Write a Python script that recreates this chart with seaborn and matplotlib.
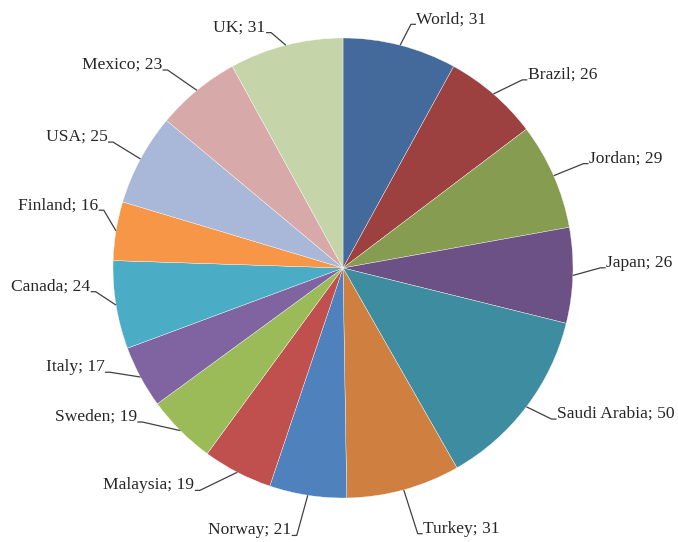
import numpy as np
import seaborn as sns
import matplotlib.pyplot as plt

countries = ['World', 'Brazil', 'Jordan', 'Japan', 'Saudi Arabia', 'Turkey', 'Norway',
             'Malaysia', 'Sweden', 'Italy', 'Canada', 'Finland', 'USA', 'Mexico', 'UK']
values = [31, 26, 29, 26, 50, 31, 21, 19, 19, 17, 24, 16, 25, 23, 31]

colors = ['#44699B', '#9C413F', '#869C50', '#6B5186', '#3E8CA0', '#CF7F3F', '#4F81BD',
          '#C0504D', '#9BBB59', '#8064A2', '#4BACC6', '#F79646', '#A9B8D8', '#D8A9A9', '#C5D5A9']

# label anchor tweaks (angle offset in degrees, radius in pie radii)
lab_dang = [-1.2, -2.8, -0.2, 1.9, 1.2, 0.4, -1.0, -5.4, -7.5, -4.2, -3.8, -4.3, -0.4, 2.1, 2.6]
lab_r = [1.10, 1.13, 1.14, 1.12, 1.12, 1.20, 1.18, 1.15, 1.10, 1.11, 1.08, 1.07, 1.14, 1.15, 1.07]

sns.set_theme(style='white')
plt.rcParams['font.family'] = ['Liberation Serif', 'DejaVu Serif']

fig = plt.figure(figsize=(6.78, 5.42), dpi=100)
ax = fig.add_axes([0, 0, 1, 1])

wedges, _ = ax.pie(values, colors=colors, startangle=90, counterclock=False, radius=1.0,
                   wedgeprops=dict(edgecolor='white', linewidth=0.25))

px = 1 / 230.0
tick = 5 * px
total = float(sum(values))
cum = np.cumsum([0] + values[:-1])
for i, (name, v) in enumerate(zip(countries, values)):
    mid = 90 - (cum[i] + v / 2.0) / total * 360
    m = np.deg2rad(mid)
    ex, ey = np.cos(m), np.sin(m)
    a = np.deg2rad(mid + lab_dang[i])
    axx, ayy = lab_r[i] * np.cos(a), lab_r[i] * np.sin(a)
    side = 1 if np.cos(a) > 0 else -1
    tx = axx + side * tick
    ax.plot([ex, axx, tx], [ey, ayy, ayy], color='#404040', lw=0.9, solid_capstyle='butt')
    ax.text(tx + side * 0.5 * px, ayy + 1 * px, f'{name}; {v}', ha='left' if side > 0 else 'right',
            va='baseline', fontsize=12.6, color='#262626')

ax.set_xlim(-343 * px, (678 - 343) * px)
ax.set_ylim(-(542 - 268) * px, 268 * px)
ax.set_aspect('auto')
ax.axis('off')

fig.savefig('out.png', dpi=100)
